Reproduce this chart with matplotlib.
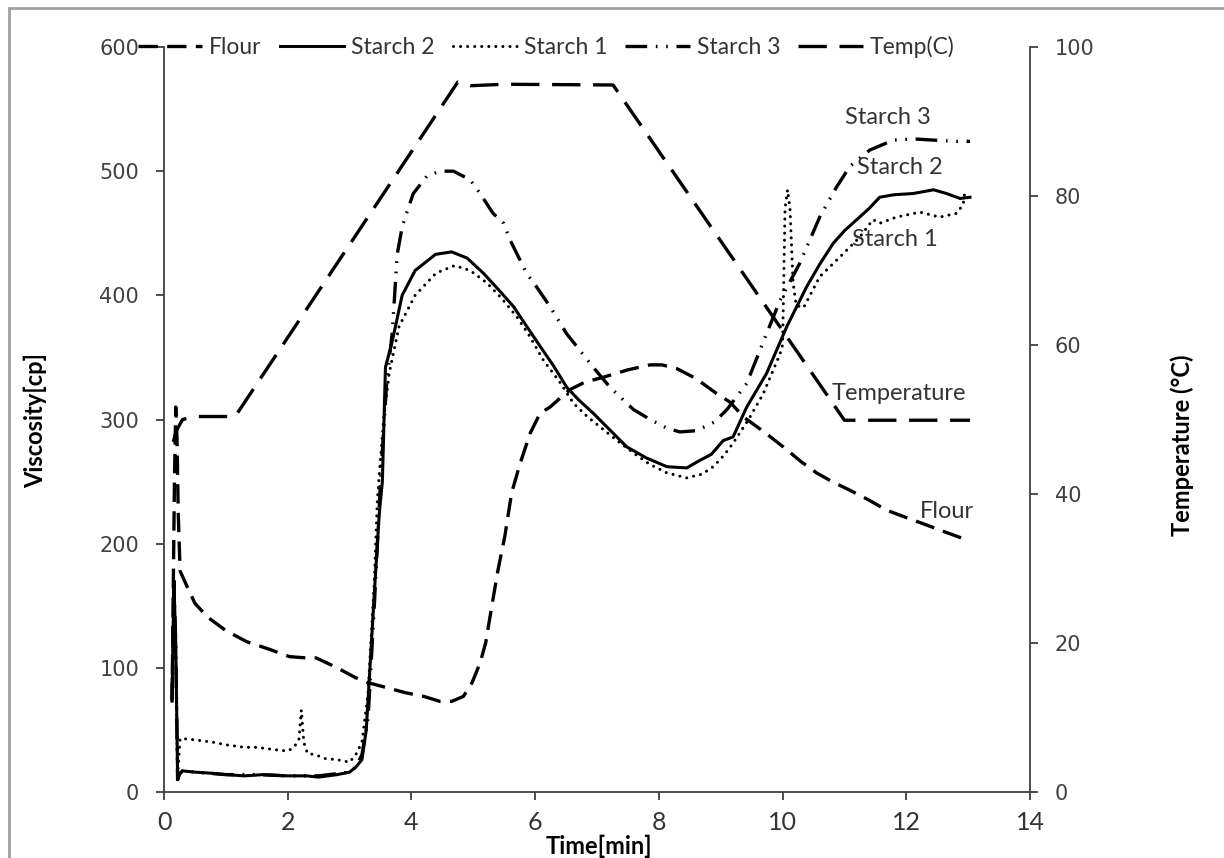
import matplotlib
matplotlib.use("Agg")
import matplotlib.pyplot as plt
from matplotlib.lines import Line2D
from matplotlib.patches import Rectangle
from matplotlib import font_manager

names = {f.name for f in font_manager.fontManager.ttflist}
LABF = "Lato" if "Lato" in names else "DejaVu Sans"

# ---------------- data ----------------
flour_t = [0.13, 0.15, 0.17, 0.19, 0.21, 0.23, 0.26, 0.35, 0.5, 0.7, 1.0, 1.34, 1.7, 2.03,
           2.3, 2.46, 2.8, 3.1, 3.3, 3.53, 3.9, 4.2, 4.46, 4.65, 4.84, 4.98, 5.11, 5.2, 5.27,
           5.4, 5.51, 5.62, 5.76, 5.92, 6.08, 6.24, 6.56, 6.8, 7.1, 7.5, 7.86, 8.05, 8.29,
           8.6, 8.93, 9.15, 9.37, 9.7, 10.01, 10.3, 10.55, 10.8, 11.09, 11.4, 11.68, 12.0,
           12.33, 12.65, 12.98]
flour_v = [72, 165, 255, 310, 285, 225, 178, 168, 152, 141, 130, 121, 115, 109,
           108, 108, 100, 92, 88, 85, 80, 77, 73, 73, 77, 88, 104, 120, 141,
           179, 206, 241, 265, 289, 305, 310, 324, 330, 334, 340, 344, 344, 341,
           333, 321, 314, 302, 290, 278, 266, 257, 250, 243, 235, 227, 221,
           215, 209, 203]

starch2_t = [0.13, 0.16, 0.19, 0.22, 0.25, 0.3, 0.5, 0.8, 1.0, 1.3, 1.6, 2.0, 2.3, 2.5, 2.8,
             3.0, 3.1, 3.2, 3.27, 3.32, 3.4, 3.48, 3.53, 3.58, 3.69, 3.85, 4.06, 4.39, 4.65,
             4.9, 5.16, 5.4, 5.65, 5.85, 6.08, 6.3, 6.51, 6.7, 6.94, 7.2, 7.48, 7.8, 8.13,
             8.45, 8.66, 8.85, 9.04, 9.2, 9.42, 9.74, 10.07, 10.39, 10.6, 10.82, 11.0, 11.2,
             11.4, 11.57, 11.8, 12.11, 12.44, 12.65, 12.87, 13.03]
starch2_v = [75, 170, 120, 10, 14, 17, 16, 15, 14, 13, 14, 13, 13, 12, 14,
             16, 20, 26, 50, 92, 160, 224, 250, 342, 363, 400, 420, 433, 435,
             430, 418, 405, 391, 376, 359, 343, 326, 316, 305, 292, 278, 269, 262,
             261, 267, 272, 283, 286, 310, 337, 375, 407, 425, 442, 452, 461,
             470, 479, 481, 482, 485, 482, 478, 479]

starch1_t = [0.13, 0.16, 0.19, 0.22, 0.26, 0.3, 0.5, 0.8, 1.0, 1.3, 1.5, 1.8, 2.0, 2.1, 2.18,
             2.22, 2.26, 2.32, 2.45, 2.6, 2.8, 3.0, 3.1, 3.2, 3.3, 3.4, 3.45, 3.55, 3.64, 3.8,
             4.06, 4.4, 4.7, 4.95, 5.22, 5.45, 5.7, 5.9, 6.13, 6.4, 6.62, 6.85, 7.05, 7.3,
             7.59, 7.85, 8.13, 8.45, 8.7, 8.88, 9.05, 9.2, 9.45, 9.69, 9.96, 10.0, 10.04,
             10.08, 10.12, 10.17, 10.22, 10.34, 10.6, 10.93, 11.25, 11.46, 11.57, 11.84,
             12.22, 12.54, 12.81, 12.92, 12.95]
starch1_v = [75, 165, 110, 12, 43, 43, 42, 40, 38, 36, 36, 34, 33, 36, 42,
             66, 40, 31, 30, 27, 26, 24, 30, 40, 80, 170, 236, 300, 337, 375,
             400, 418, 424, 420, 410, 398, 383, 368, 348, 330, 313, 302, 294, 284,
             273, 264, 257, 253, 256, 262, 271, 281, 300, 321, 353, 360, 470,
             485, 470, 410, 392, 390, 415, 431, 447, 461, 458, 463,
             467, 463, 466, 473, 485]

starch3_t = [0.13, 0.16, 0.19, 0.22, 0.25, 0.3, 0.5, 1.0, 1.5, 2.0, 2.5, 3.0, 3.1, 3.2, 3.3,
             3.4, 3.5, 3.6, 3.69, 3.77, 3.85, 3.92, 4.03, 4.25, 4.46, 4.68, 4.95, 5.11, 5.32,
             5.49, 5.59, 5.86, 6.02, 6.24, 6.51, 6.67, 6.94, 7.21, 7.59, 7.86, 8.13, 8.34,
             8.61, 8.9, 9.1, 9.42, 9.74, 9.96, 10.28, 10.6, 10.87, 11.09, 11.41, 11.79,
             12.11, 12.44, 12.81, 13.03]
starch3_v = [75, 170, 120, 10, 15, 17, 16, 14, 14, 13, 13, 16, 20, 30, 60,
             150, 250, 330, 370, 433, 455, 466, 482, 496, 500, 500, 493, 482, 466,
             458, 445, 418, 407, 391, 369, 359, 342, 326, 308, 300, 293, 290,
             291, 298, 308, 329, 369, 396, 426, 463, 487, 504, 517, 525,
             526, 525, 524, 524]

temp_t = [0.15, 0.2, 0.3, 0.5, 1.15, 4.75, 4.95, 5.5, 7.26, 11.0, 13.03]
temp_v = [47, 48.5, 50, 50.4, 50.4, 95.3, 94.8, 95, 94.9, 49.9, 49.9]

x_ticks = [0, 2, 4, 6, 8, 10, 12, 14]
visc_ticks = [0, 100, 200, 300, 400, 500, 600]
temp_ticks = [0, 20, 40, 60, 80, 100]
legend_labels = ["Flour", "Starch 2", "Starch 1", "Starch 3", "Temp(C)"]

# ---------------- figure ----------------
W, H = 1224, 858
fig = plt.figure(figsize=(W / 100, H / 100), dpi=100)
fig.patch.set_facecolor("white")
ax = fig.add_axes([164 / W, (H - 792) / H, (1030 - 164) / W, (792 - 47) / H])
ax2 = ax.twinx()

LW = 2.4
st_flour = dict(color="black", lw=LW, dashes=(5.8, 2.8), dash_capstyle="butt")
st_s2 = dict(color="black", lw=2.2, solid_joinstyle="round")
st_s1 = dict(color="black", lw=2.2, dashes=(0.01, 2.3), dash_capstyle="round")
st_s3 = dict(color="black", lw=LW, dashes=(6.5, 2.6, 0.5, 2.6, 0.5, 2.6), dash_capstyle="butt")
st_temp = dict(color="black", lw=LW, dashes=(8.5, 3.8), dash_capstyle="butt")

ax.plot(flour_t, flour_v, **st_flour)
ax.plot(starch2_t, starch2_v, **st_s2)
ax.plot(starch1_t, starch1_v, **st_s1)
ax.plot(starch3_t, starch3_v, **st_s3)
ax2.plot(temp_t, temp_v, **st_temp)

ax.set_xlim(0, 14)
ax.set_ylim(0, 600)
ax2.set_ylim(0, 100)

axc = "#404040"
for a in (ax, ax2):
    a.spines["top"].set_visible(False)
    for s in ("left", "right", "bottom"):
        a.spines[s].set_color(axc)
        a.spines[s].set_linewidth(1.3)
ax.spines["right"].set_visible(False)
ax2.spines["left"].set_visible(False)
ax2.spines["bottom"].set_visible(False)

ax.set_xticks(x_ticks)
ax.set_xticklabels([str(v) for v in x_ticks], fontfamily=LABF, fontsize=18, color="#333333")
ax.set_yticks(visc_ticks)
ax.set_yticklabels([str(v) for v in visc_ticks], fontfamily="DejaVu Sans", fontsize=15, color="#404040")
ax2.set_yticks(temp_ticks)
ax2.set_yticklabels([str(v) for v in temp_ticks], fontfamily="DejaVu Sans", fontsize=15, color="#404040")
ax.tick_params(axis="x", direction="out", length=6, width=1.3, color=axc, pad=8)
ax.tick_params(axis="y", direction="out", length=6, width=1.3, color=axc, pad=12)
ax2.tick_params(axis="y", direction="out", length=6, width=1.3, color=axc, pad=12)

fig.text(599 / W, 1 - 846 / H, "Time[min]", ha="center", va="center",
         fontfamily=LABF, fontweight="bold", fontsize=17, color="black")
fig.text(35 / W, 1 - 420 / H, "Viscosity[cp]", ha="center", va="center", rotation=90,
         fontfamily=LABF, fontweight="bold", fontsize=17, color="black")
fig.text(1182 / W, 1 - 445 / H, "Temperature (\u00b0C)", ha="center", va="center", rotation=90,
         fontfamily=LABF, fontweight="bold", fontsize=17, color="black")

# annotations (in pixel positions of the reference layout)
ann = [("Starch 3", 888, 117), ("Starch 2", 900, 167), ("Starch 1", 895, 239),
       ("Temperature", 899, 394), ("Flour", 947, 511)]
for txt, px, py in ann:
    fig.text(px / W, 1 - py / H, txt, ha="center", va="center",
             fontfamily=LABF, fontsize=17, color="#333333")

# legend
handles = [Line2D([], [], **st_flour), Line2D([], [], **st_s2), Line2D([], [], **st_s1),
           Line2D([], [], **st_s3), Line2D([], [], **st_temp)]
leg = fig.legend(handles, legend_labels, loc="center", ncol=5, frameon=False,
                 bbox_to_anchor=(546 / W, 1 - 47 / H), prop={"family": LABF, "size": 16.5},
                 handlelength=2.8, handletextpad=0.3, columnspacing=0.8)
for t in leg.get_texts():
    t.set_color("#333333")

# outer grey frame
fig.patches.append(Rectangle((9 / W, -0.2), 1.5, (H - 8) / H + 0.2, transform=fig.transFigure,
                             fill=False, edgecolor="#a0a0a0", lw=2.0))

fig.savefig("out.png", dpi=100)
